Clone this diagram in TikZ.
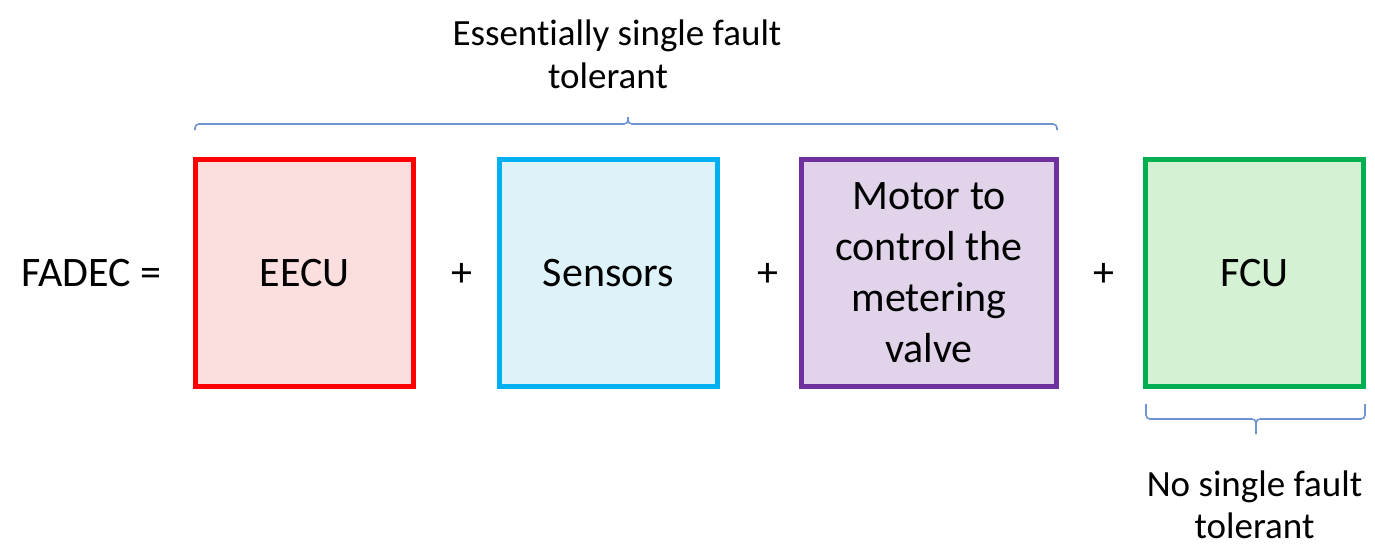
\documentclass[tikz,border=0pt]{standalone}
\usepackage{fontspec}
\setmainfont{Carlito}[Ligatures=NoCommon]
\definecolor{eeculine}{HTML}{FF0000}
\definecolor{eecufill}{HTML}{FBDEDE}
\definecolor{sensline}{HTML}{00B0F0}
\definecolor{sensfill}{HTML}{DEF2F9}
\definecolor{motline}{HTML}{7030A0}
\definecolor{motfill}{HTML}{E1D3EA}
\definecolor{fculine}{HTML}{00B050}
\definecolor{fcufill}{HTML}{D4F1D4}
\definecolor{braceblue}{HTML}{7094D2}
\begin{document}
\begin{tikzpicture}[x=1pt,y=-1pt,
  part/.style={draw,line width=5pt,inner sep=0pt,minimum width=218pt,
    minimum height=227pt,align=center,
    font=\fontsize{42}{51}\selectfont},
  bigtext/.style={inner sep=0pt,font=\fontsize{42}{51}\selectfont},
  note/.style={inner sep=0pt,align=center,font=\fontsize{37}{43.5}\selectfont},
  bracket/.style={draw=braceblue,line width=1.6pt,rounded corners=4pt}]
  \fill[white] (0,0) rectangle (1375,546);
  \useasboundingbox (0,0) rectangle (1375,546);

  % the four building blocks
  \node[part,draw=eeculine,fill=eecufill] (eecu) at (304.5,273) {EECU};
  \node[part,draw=sensline,fill=sensfill] (sens) at (608.5,273) {Sensors};
  \node[part,draw=motline,fill=motfill,minimum width=255pt] (motor) at (929,273)
    {Motor to\\control the\\metering\\valve};
  \node[part,draw=fculine,fill=fcufill] (fcu) at (1254.5,273) {FCU};

  % the sum
  \node[bigtext,anchor=base west] (fadec) at (21,286) {FADEC =};
  \node[bigtext,anchor=base] (p1) at (462,286) {+};
  \node[bigtext,anchor=base] (p2) at (768,286) {+};
  \node[bigtext,anchor=base] (p3) at (1104,286) {+};

  % group bracket over the first three blocks
  \draw[bracket] (195,130) -- (195,124) -- (628,124) -- (628,117);
  \draw[bracket] (1057,130) -- (1057,124) -- (628,124) -- (628,117);
  \node[note,anchor=base] (top1) at (617,45) {Essentially single fault};
  \node[note,anchor=base] (top2) at (608,88) {tolerant};

  % bracket under the FCU
  \draw[bracket] (1146,404) -- (1146,419) -- (1256,419) -- (1256,434);
  \node[coordinate] (fcutip) at (1256,434) {};
  \draw[bracket] (1365,404) -- (1365,419) -- (1256,419) -- (fcutip);
  \node[note,anchor=base] (bot1) at (1254.5,496) {No single fault};
  \node[note,anchor=base] (bot2) at (1254.5,538) {tolerant};
\end{tikzpicture}
\end{document}
